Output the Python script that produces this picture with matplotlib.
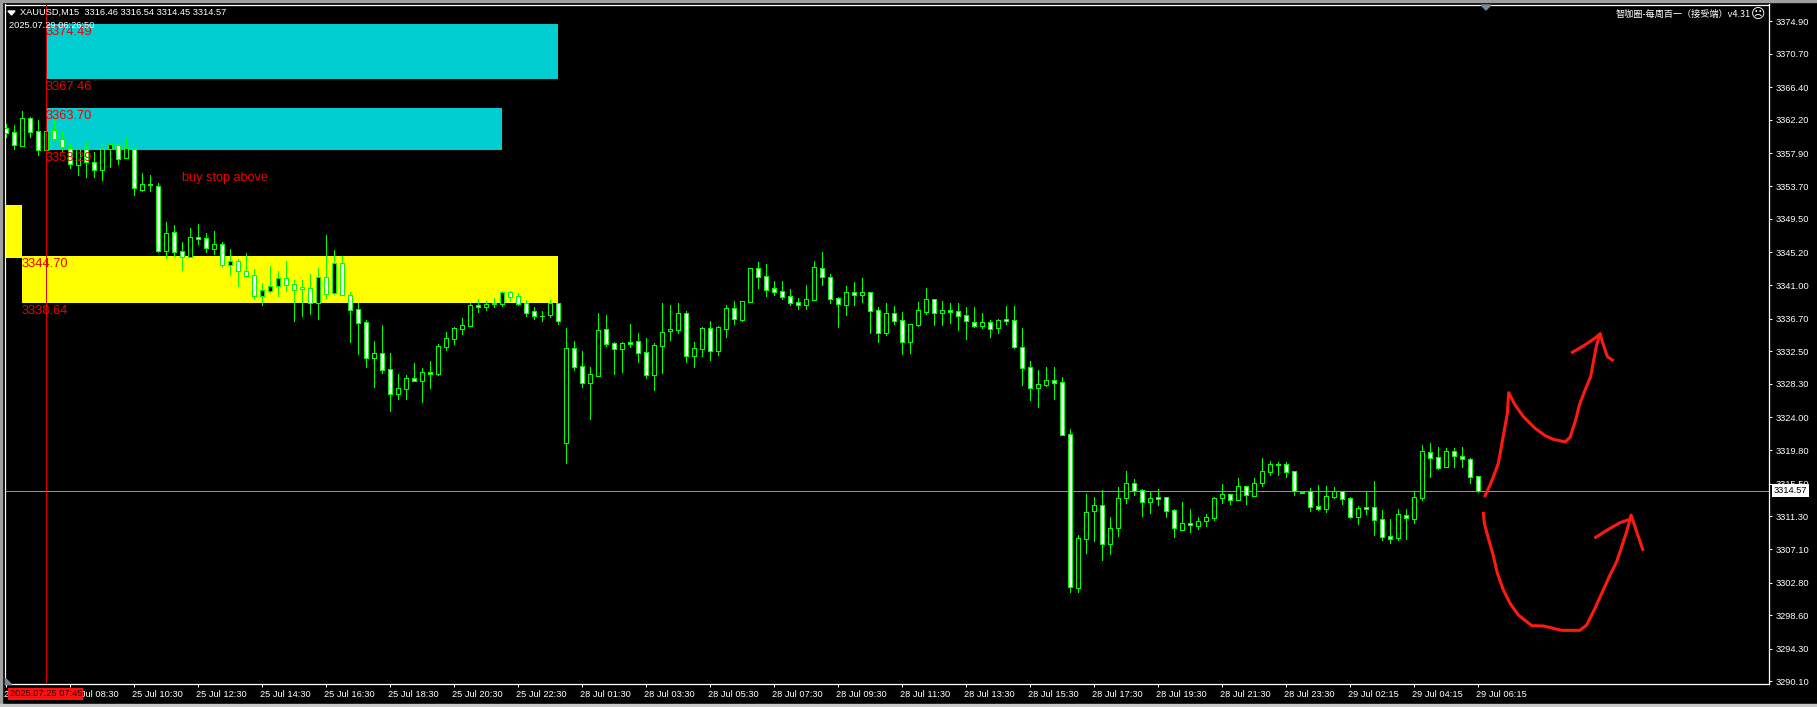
import matplotlib
matplotlib.use('Agg')
import matplotlib.pyplot as plt
from matplotlib.patches import Rectangle, Polygon
from matplotlib.transforms import ScaledTranslation

opens = [3361.12,3360.61,3358.90,3362.41,3360.74,3358.30,3360.87,3359.80,3358.64,3356.46,
         3358.47,3356.76,3355.81,3358.51,3359.02,3357.36,3358.51,3353.25,3353.93,3353.76,
         3345.41,3347.76,3345.32,3344.64,3347.16,3346.99,3345.66,3346.22,3343.61,3344.04,
         3342.75,3342.24,3339.63,3340.27,3340.91,3341.85,3341.08,3340.70,3340.57,3338.73,
         3341.98,3339.93,3343.78,3339.76,3337.87,3336.20,3331.67,3332.22,3330.17,3327.05,
         3327.69,3329.01,3328.71,3329.78,3329.61,3333.08,3334.11,3335.39,3335.78,3338.39,
         3338.22,3338.60,3338.60,3340.06,3339.54,3338.64,3337.62,3337.06,3337.15,3338.64,
         3320.75,3332.87,3330.55,3328.46,3329.36,3335.31,3333.51,3332.82,3333.68,3333.76,
         3332.35,3329.48,3333.21,3335.05,3335.26,3337.36,3331.92,3332.82,3335.43,3332.57,
         3335.39,3338.00,3336.55,3338.86,3343.14,3342.11,3340.57,3340.18,3339.54,3338.77,
         3338.47,3339.11,3343.14,3341.98,3339.29,3338.47,3340.06,3339.76,3340.06,3337.75,
         3334.88,3337.36,3336.46,3333.72,3335.86,3337.57,3339.16,3337.45,3337.75,3337.62,
         3337.10,3336.20,3335.78,3336.20,3335.52,3336.63,3336.46,3332.99,3330.43,3327.82,
         3328.20,3328.76,3328.50,3321.83,3302.14,3308.43,3311.94,3312.71,3307.79,3309.76,
         3313.61,3315.54,3314.64,3313.18,3313.74,3313.74,3312.07,3309.59,3310.40,3310.10,
         3310.66,3311.13,3313.61,3314.13,3313.44,3315.15,3313.95,3315.62,3317.04,3318.06,
         3317.98,3317.08,3314.43,3314.51,3312.58,3312.29,3313.83,3314.51,3313.61,3311.26,
         3312.46,3312.46,3310.92,3308.73,3308.56,3311.43,3310.96,3313.70,3319.52,3318.88,
         3317.68,3319.65,3319.00,3318.62,3316.46]
closes = [3360.57,3358.94,3362.41,3360.69,3358.30,3360.74,3359.80,3358.68,3356.50,3358.51,
          3356.84,3355.81,3358.51,3359.15,3357.23,3358.64,3353.42,3353.93,3353.80,3345.41,
          3347.63,3345.28,3344.64,3347.12,3346.95,3345.79,3346.26,3343.61,3344.04,3342.75,
          3342.20,3339.63,3340.31,3340.83,3341.85,3341.04,3340.40,3340.44,3338.73,3341.98,
          3339.89,3343.78,3339.76,3337.83,3336.16,3331.67,3332.22,3330.13,3327.05,3327.73,
          3329.01,3328.71,3329.78,3329.53,3333.12,3334.15,3335.43,3335.82,3338.39,3338.22,
          3338.60,3338.64,3340.06,3339.50,3338.60,3337.45,3337.06,3337.06,3338.64,3336.42,
          3332.87,3330.51,3328.46,3329.53,3335.18,3333.42,3332.82,3333.51,3333.47,3332.31,
          3329.48,3333.25,3334.92,3335.31,3337.36,3331.92,3332.87,3335.43,3332.57,3335.56,
          3338.00,3336.68,3338.90,3343.14,3342.07,3340.40,3340.14,3339.50,3338.73,3338.47,
          3339.16,3343.27,3342.07,3339.24,3338.52,3340.06,3339.76,3340.06,3337.70,3334.88,
          3337.36,3336.42,3333.72,3335.95,3337.75,3339.16,3337.45,3337.75,3337.57,3337.06,
          3336.33,3335.78,3336.20,3335.39,3336.46,3336.42,3333.08,3330.38,3327.82,3328.24,
          3328.76,3328.46,3321.78,3302.18,3308.48,3311.81,3312.71,3307.79,3309.76,3313.61,
          3315.54,3314.60,3313.18,3313.61,3313.57,3312.03,3309.76,3310.40,3310.15,3310.66,
          3311.17,3313.61,3314.13,3313.44,3315.15,3314.08,3315.54,3317.08,3317.98,3317.93,
          3317.04,3314.51,3314.34,3312.54,3312.29,3313.87,3314.51,3313.57,3311.22,3312.33,
          3312.24,3310.87,3308.69,3308.43,3311.56,3311.13,3313.74,3319.65,3318.83,3317.55,
          3319.65,3319.00,3318.71,3316.39,3314.57]
highs = [3361.68,3361.51,3363.35,3362.62,3362.19,3360.74,3362.19,3360.78,3359.20,3358.51,
         3359.50,3358.04,3358.60,3359.28,3359.11,3360.01,3358.60,3355.39,3355.13,3354.10,
         3349.04,3348.70,3346.48,3348.36,3348.79,3347.63,3347.93,3346.48,3345.62,3344.29,
         3345.11,3343.05,3341.25,3343.44,3342.80,3344.08,3341.64,3341.64,3342.41,3343.18,
         3347.42,3345.49,3344.72,3340.10,3338.64,3336.50,3333.81,3335.86,3332.27,3329.57,
         3329.44,3330.98,3330.30,3331.24,3333.42,3334.96,3335.56,3336.76,3338.64,3339.16,
         3338.94,3339.29,3340.23,3340.18,3339.93,3339.07,3338.13,3337.66,3339.07,3338.73,
         3335.48,3333.81,3332.52,3330.47,3337.40,3337.15,3333.68,3333.68,3335.99,3334.83,
         3334.19,3333.55,3338.69,3338.43,3338.69,3337.66,3333.68,3335.61,3336.38,3335.73,
         3338.43,3338.94,3338.90,3343.14,3343.95,3343.69,3341.51,3341.51,3340.44,3339.29,
         3341.00,3344.08,3345.24,3342.41,3339.41,3340.87,3341.38,3341.90,3340.10,3338.17,
         3338.64,3338.30,3337.53,3335.95,3338.82,3340.61,3339.16,3338.94,3338.69,3338.69,
         3338.13,3338.17,3337.40,3336.50,3336.63,3338.30,3338.30,3335.48,3331.24,3330.08,
         3330.47,3330.47,3329.19,3322.51,3308.86,3314.17,3313.78,3314.68,3311.22,3315.07,
         3317.12,3316.09,3314.81,3314.43,3314.81,3313.78,3312.24,3313.14,3312.24,3311.22,
         3311.60,3313.78,3315.45,3314.17,3316.22,3315.20,3316.22,3318.79,3318.41,3318.28,
         3318.28,3317.12,3314.43,3314.94,3315.32,3315.20,3315.07,3314.55,3313.78,3312.63,
         3314.43,3315.84,3312.11,3310.96,3312.24,3312.24,3314.43,3320.46,3320.72,3320.20,
         3320.07,3320.07,3320.20,3318.79,3316.54]
lows = [3360.05,3358.51,3358.90,3360.01,3357.70,3358.30,3359.62,3358.25,3356.07,3355.13,
        3354.92,3354.92,3354.49,3356.20,3356.54,3357.36,3352.56,3353.08,3353.12,3345.29,
        3344.42,3344.72,3342.92,3344.64,3346.26,3345.24,3344.98,3343.35,3342.28,3340.91,
        3342.03,3339.37,3338.43,3340.14,3339.63,3340.23,3336.42,3337.02,3337.27,3336.68,
        3339.33,3339.84,3339.71,3333.72,3332.14,3330.47,3327.90,3329.74,3324.82,3326.36,
        3326.36,3328.67,3325.98,3327.77,3329.44,3332.65,3333.42,3334.71,3335.78,3337.53,
        3337.79,3338.17,3338.30,3338.94,3338.43,3337.02,3336.63,3336.38,3336.89,3335.99,
        3318.14,3330.08,3327.90,3323.79,3329.36,3333.17,3329.57,3329.83,3333.04,3331.11,
        3329.06,3327.52,3329.70,3333.94,3334.83,3331.11,3330.47,3331.88,3331.37,3332.01,
        3334.32,3335.99,3336.38,3338.86,3340.61,3339.59,3339.71,3339.20,3338.43,3337.92,
        3337.92,3339.11,3341.00,3338.69,3335.61,3337.15,3338.43,3338.82,3334.83,3333.68,
        3334.58,3335.99,3332.14,3332.27,3335.73,3337.27,3335.86,3335.86,3336.12,3335.22,
        3334.06,3335.61,3335.48,3334.32,3334.83,3335.99,3332.91,3328.16,3326.23,3325.33,
        3328.03,3326.36,3321.78,3301.59,3301.59,3306.59,3308.13,3305.69,3306.46,3308.78,
        3313.01,3314.04,3311.34,3311.73,3312.76,3311.22,3308.65,3309.59,3309.29,3309.67,
        3310.06,3310.83,3313.01,3312.88,3313.44,3312.88,3313.95,3315.20,3316.61,3316.61,
        3316.35,3314.04,3314.34,3311.99,3312.11,3311.86,3313.65,3312.88,3311.09,3310.32,
        3311.60,3308.90,3308.26,3307.88,3308.26,3308.39,3310.44,3313.40,3316.35,3317.38,
        3317.68,3317.64,3317.64,3315.58,3314.45]

time_labels = ['25 Jul 06:30', '25 Jul 08:30', '25 Jul 10:30', '25 Jul 12:30', '25 Jul 14:30',
               '25 Jul 16:30', '25 Jul 18:30', '25 Jul 20:30', '25 Jul 22:30', '28 Jul 01:30',
               '28 Jul 03:30', '28 Jul 05:30', '28 Jul 07:30', '28 Jul 09:30', '28 Jul 11:30',
               '28 Jul 13:30', '28 Jul 15:30', '28 Jul 17:30', '28 Jul 19:30', '28 Jul 21:30',
               '28 Jul 23:30', '29 Jul 02:15', '29 Jul 04:15', '29 Jul 06:15']
price_ticks = [3374.90, 3370.70, 3366.40, 3362.20, 3357.90, 3353.70, 3349.50, 3345.20, 3341.00,
               3336.70, 3332.50, 3328.30, 3324.00, 3319.80, 3315.50, 3311.30, 3307.10, 3302.80,
               3298.60, 3294.30, 3290.10]
last_price = 3314.57

# zones: first bar, last bar, top price, bottom price
cyan_zones = [(5, 69, 3374.49, 3367.46), (5, 62, 3363.70, 3358.29)]
yellow_zones = [(-5, 2, 3351.30, 3344.47), (2, 69, 3344.70, 3338.64)]

# hand drawn arrows, bar number and price
up_bars = [184.92,185.54,186.04,186.58,186.92,187.29,187.71,187.87,188.67,189.71,191.17,192.42,193.46,
           194.92,195.54,196.25,196.71,197.42,198.12,198.54,198.87,199.29,199.71,200.21,200.83]
up_prices = [3313.95,3315.32,3316.61,3318.11,3320.03,3322.17,3324.53,3327.18,3325.60,3324.10,3322.60,3321.66,3321.19,
             3320.85,3321.44,3323.67,3325.60,3327.52,3329.23,3331.59,3333.30,3334.71,3333.30,3331.80,3331.37]
up_head_bars = [195.83, 197.21, 198.46, 199.29]
up_head_prices = [3332.36, 3333.17, 3334.03, 3334.71]
down_bars = [184.71,184.83,185.33,185.87,186.46,187.21,188.04,189.08,190.75,192.21,194.50,196.79,197.62,
             198.46,199.50,200.54,201.37,202.00,202.62,203.17,203.87,204.62]
down_prices = [3311.69,3310.40,3308.48,3306.55,3303.98,3301.84,3300.13,3298.63,3297.26,3297.22,3296.66,3296.66,3297.35,
               3299.06,3301.41,3303.77,3305.48,3307.41,3309.33,3311.47,3309.33,3307.06]
down_head_bars = [198.75, 200.33, 201.79, 203.17]
down_head_prices = [3308.60, 3309.63, 3310.49, 3310.96]

ui_font = ['Liberation Sans', 'DejaVu Sans']
cjk_font = ['Noto Sans CJK SC', 'DejaVu Sans']

W, H = 1817, 707
fig = plt.figure(figsize=(W / 100, H / 100), dpi=100, facecolor='black')
ax = fig.add_axes([4.5 / W, 1 - 684 / H, (1769 - 4.5) / W, (684 - 4.5) / H], facecolor='black')
ax.set_xlim(-0.15, 220.41)
ax.set_ylim(3289.77, 3377.02)

# window edge
fig.add_artist(Rectangle((0, 1 - 2 / H), 1, 2 / H, transform=fig.transFigure, color='#a0a0a0'))
fig.add_artist(Rectangle((0, 0), 2 / W, 1, transform=fig.transFigure, color='#a0a0a0'))
fig.add_artist(Rectangle((0, 0), 1, 3 / H, transform=fig.transFigure, color='#c8c8c8'))

for x0, x1, top, bottom in cyan_zones:
    ax.add_patch(Rectangle((x0, bottom), x1 - x0, top - bottom, color='#00ced1', lw=0, zorder=1))
for x0, x1, top, bottom in yellow_zones:
    ax.add_patch(Rectangle((x0, bottom), x1 - x0, top - bottom, color='#ffff00', lw=0, zorder=1))

# candles, white body when price fell
bars = list(range(len(opens)))
ax.vlines(bars, lows, highs, color='#00ff00', lw=0.72, zorder=3, antialiased=False)
bottoms = [min(o, c) for o, c in zip(opens, closes)]
heights = [abs(o - c) for o, c in zip(opens, closes)]
faces = ['white' if c < o else 'black' for o, c in zip(opens, closes)]
candles = ax.bar(bars, heights, bottom=bottoms, width=0.5, color=faces, edgecolor='#00ff00',
                 linewidth=0.6, zorder=4, antialiased=False)
for body in candles:
    body.set_snap(True)

ax.axhline(last_price, color='#8f959c', lw=0.72, zorder=2)
ax.axvline(5, color='#e00000', lw=0.72, zorder=5)

ax.plot(up_bars, up_prices, color='#ff1a10', lw=2.2, zorder=6)
ax.plot(up_head_bars, up_head_prices, color='#ff1a10', lw=2.2, zorder=6)
ax.plot(down_bars, down_prices, color='#ff1a10', lw=2.2, zorder=6)
ax.plot(down_head_bars, down_head_prices, color='#ff1a10', lw=2.2, zorder=6)

# zone labels
zone_labels = [(5, 3374.49, '3374.49'), (5, 3367.46, '3367.46'), (5, 3363.70, '3363.70'),
               (5, 3358.29, '3358.29'), (2, 3344.70, '3344.70'), (2, 3338.64, '3338.64')]
for x, y, s in zone_labels:
    ax.annotate(s, (x, y), xytext=(0, -2), textcoords='offset pixels', va='top', ha='left',
                color='#ee0000', fontsize=9.3, family=ui_font, zorder=7)
ax.text(22, 3354.73, 'buy stop above', color='#ee0000', fontsize=9.1, family=ui_font,
        va='center', ha='left', zorder=7)

# axes
ax.yaxis.tick_right()
ax.set_yticks(price_ticks)
ax.set_yticklabels(['%.2f' % p for p in price_ticks])
ax.set_xticks(bars[::8])
ax.set_xticklabels(time_labels)
ax.tick_params(colors='white', length=2.5, width=0.75, labelsize=6.7)
ax.tick_params(axis='x', pad=1.7)
ax.tick_params(axis='y', pad=2.2)
shift_left = ScaledTranslation(-2 / 100, 0, fig.dpi_scale_trans)
for lbl in ax.get_xticklabels():
    lbl.set_ha('left')
    lbl.set_family(ui_font)
    lbl.set_transform(lbl.get_transform() + shift_left)
for lbl in ax.get_yticklabels():
    lbl.set_family(ui_font)
for side in ax.spines.values():
    side.set_color('white')
    side.set_linewidth(0.9)

# header texts
fig.text(19.5 / W, 1 - 12.5 / H, 'XAUUSD,M15  3316.46 3316.54 3314.45 3314.57', color='white',
         fontsize=6.7, family=ui_font, va='center', ha='left')
fig.text(9 / W, 1 - 26 / H, '2025.07.29 06:26:50', color='white', fontsize=6.7, family=ui_font,
         va='center', ha='left', zorder=8)
fig.add_artist(Polygon([[8 / W, 1 - 11 / H], [15 / W, 1 - 11 / H], [11.5 / W, 1 - 15 / H]],
                       transform=fig.transFigure, color='white'))
fig.add_artist(Polygon([[1481 / W, 1 - 5 / H], [1491 / W, 1 - 5 / H], [1486 / W, 1 - 10 / H]],
                       transform=fig.transFigure, color='#778899'))
fig.add_artist(Polygon([[5 / W, 1 - 678 / H], [5 / W, 1 - 684 / H], [11 / W, 1 - 684 / H]],
                       transform=fig.transFigure, color='#778899'))
fig.text(1750.5 / W, 1 - 14 / H, '智咖圈-每周百一（接受端）v4.31', color='white', fontsize=6.6,
         family=cjk_font, va='center', ha='right')
fig.text(1758.5 / W, 1 - 14 / H, '\u2639', color='white', fontsize=10, family=cjk_font,
         va='center', ha='center')

# last price box and crosshair time
ax.annotate('%.2f' % last_price, (1, last_price), xycoords=('axes fraction', 'data'), xytext=(5, 0),
            textcoords='offset pixels', va='center', ha='left', color='black', fontsize=6.7,
            family=ui_font, annotation_clip=False, zorder=9,
            bbox=dict(boxstyle='square,pad=0.2', fc='white', ec='white', lw=0))
ax.annotate('2025.07.25 07:45', (5, 0), xycoords=('data', 'axes fraction'), xytext=(0, -10),
            textcoords='offset pixels', va='center', ha='center', color='#300000', fontsize=6.7,
            family=ui_font, annotation_clip=False, zorder=9,
            bbox=dict(boxstyle='square,pad=0.15', fc='#ff1010', ec='#ff1010', lw=0))

fig.savefig('out.png', dpi=100, facecolor='black')
